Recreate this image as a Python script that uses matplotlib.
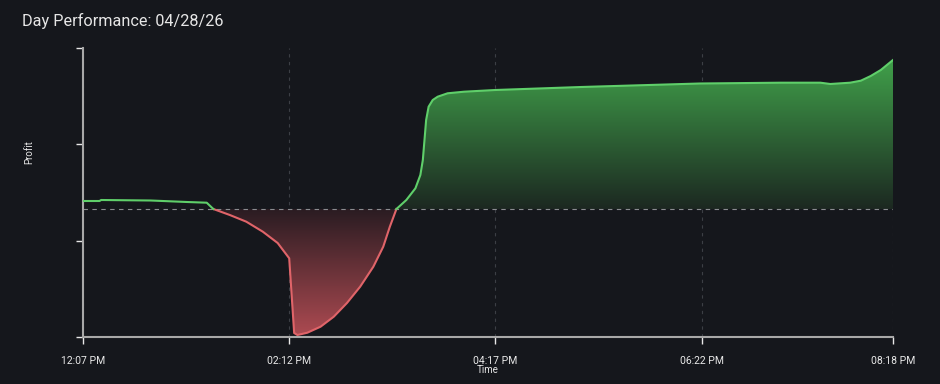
import numpy as np
import matplotlib
matplotlib.use("Agg")
from matplotlib import pyplot as plt
from matplotlib.patches import PathPatch

plt.rcParams['font.family'] = ['Roboto', 'DejaVu Sans']

# minutes since midnight and profit
minutes = [727, 737, 738, 768, 790, 802, 806, 816, 826, 836, 845, 852, 855, 857,
           863, 871, 879, 887, 895, 903, 909, 913, 917, 923, 928.5, 931.5, 933,
           934, 935, 936.5, 939, 942, 948, 958, 977, 1029, 1101, 1150, 1174, 1180,
           1192, 1198.5, 1204.5, 1210.6, 1218]
profit = [80, 80, 90, 85, 70, 63, 0, -60, -127, -227, -340, -493, -1240, -1260,
          -1237, -1177, -1077, -940, -777, -577, -377, -177, 0, 90, 207, 340, 490,
          690, 890, 1023, 1090, 1123, 1157, 1173, 1190, 1220, 1255, 1263, 1263, 1250,
          1263, 1283, 1330, 1390, 1490]
tick_minutes = [727, 852, 977, 1102, 1218]
tick_labels = ["12:07 PM", "02:12 PM", "04:17 PM", "06:22 PM", "08:18 PM"]

bg = "#15171c"
green = "#5fcf6a"
red = "#e06469"

t = np.array(minutes, dtype=float)
p = np.array(profit, dtype=float)
ymin, ymax = -1280, 1610

fig = plt.figure(figsize=(9.4, 3.84), dpi=100, facecolor=bg)
ax = fig.add_axes([83/940, 1-337/384, 810/940, 289/384])
ax.set_facecolor(bg)

# gradient fills, clipped by the area under the curve
def gradient_fill(mask, c_far, c_near, lo, hi, far_at_top):
    poly = ax.fill_between(t, 0, p, where=mask, color="none", lw=0, interpolate=True)
    n = 256
    frac = np.linspace(0, 1, n)[:, None]
    if not far_at_top:
        frac = frac[::-1]
    c_far = np.array(matplotlib.colors.to_rgba(c_far))
    c_near = np.array(matplotlib.colors.to_rgba(c_near))
    img = c_near + (c_far - c_near) * frac
    img = img[:, None, :].repeat(2, axis=1)
    im = ax.imshow(img, extent=[t[0], t[-1], lo, hi], origin="lower",
                   aspect="auto", zorder=1)
    for path in poly.get_paths():
        patch = PathPatch(path, transform=ax.transData, facecolor="none", edgecolor="none")
        ax.add_patch(patch)
        im.set_clip_path(patch)

gradient_fill(p >= 0, "#40a04a", "#1c2821", 0, p.max(), True)
gradient_fill(p <= 0, "#ac4a51", "#2a1c22", p.min(), 0, False)

pg = np.where(p >= 0, p, np.nan)
pr = np.where(p <= 0, p, np.nan)
ax.plot(t, pr, color=red, lw=1.5, zorder=3, solid_joinstyle="round")
ax.plot(t, pg, color=green, lw=1.5, zorder=3, solid_joinstyle="round")

ax.axhline(0, color="#8a8c90", lw=0.8, ls=(0, (4, 4)), zorder=2)
for m in tick_minutes:
    ax.axvline(m, color="#3c3f45", lw=0.8, ls=(0, (3, 4)), zorder=0.5)

ax.set_xlim(727, 1218)
ax.set_ylim(ymin, ymax)
ax.set_xticks(tick_minutes)
ax.set_xticklabels(tick_labels)
ax.set_yticks(np.linspace(ymin, ymax, 4))
ax.set_yticklabels([])
ax.tick_params(colors="#e8e8e8", labelsize=7.5, length=5, width=1, pad=9)
for s in ["top", "right"]:
    ax.spines[s].set_visible(False)
for s in ["left", "bottom"]:
    ax.spines[s].set_color("#a8a8a8")
    ax.spines[s].set_linewidth(1.5)

fig.text(22/940, 1-21/384, "Day Performance: 04/28/26", color="#e6e6e6",
         fontsize=11.7, va="center", ha="left")
fig.text(29/940, 1-152/384, "Profit", color="#e6e6e6", fontsize=7,
         rotation=90, va="center", ha="center")
fig.text(488/940, 1-370/384, "Time", color="#e6e6e6", fontsize=7,
         va="center", ha="center")

fig.savefig("out.png", dpi=100, facecolor=bg)
